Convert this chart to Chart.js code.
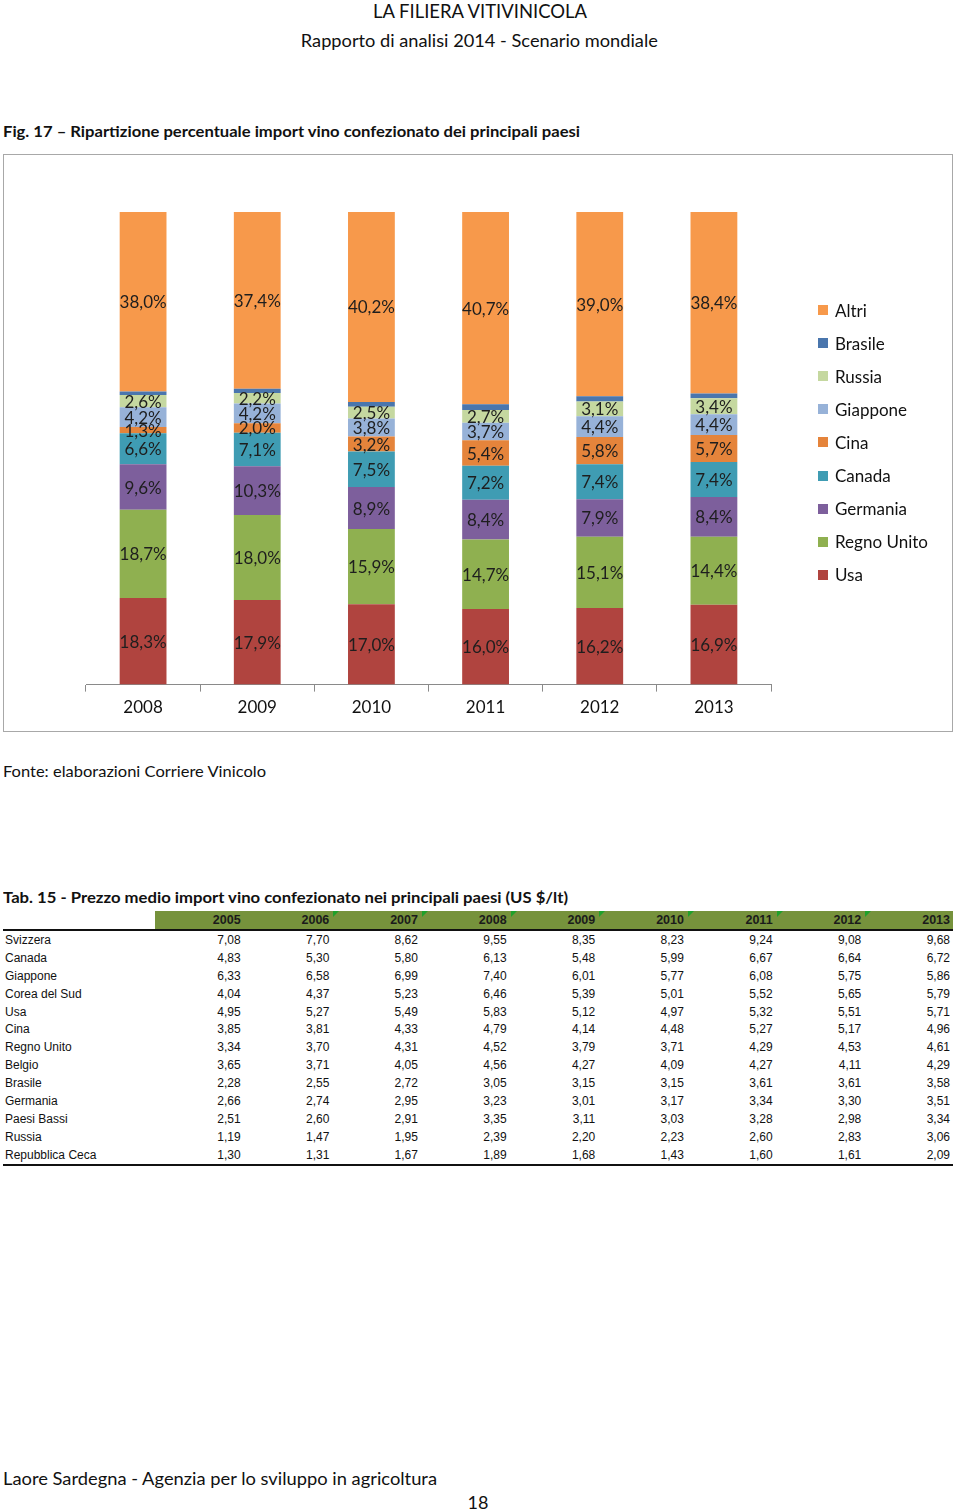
<!DOCTYPE html>
<html>
<head>
<meta charset="utf-8">
<script src="https://cdn.jsdelivr.net/npm/chart.js@4.4.0/dist/chart.umd.min.js"></script>
<style>
  html, body { margin:0; padding:0; background:#fff; }
  body { width:960px; height:1510px; position:relative; overflow:hidden; font-family: Lato, "Open Sans", sans-serif; color:#111; }
  .t { position:absolute; white-space:nowrap; line-height:1; }
  .fit { display:inline-block; }
  #frame { position:absolute; left:3px; top:154px; width:948px; height:576px; border:1px solid #a8a8a8; }
  #box { position:absolute; left:4px; top:155px; width:948px; height:576px; }
  #legend { position:absolute; left:814px; top:0; }
  .li { position:absolute; left:0; white-space:nowrap; font-size:17px; line-height:1; color:#111; }
  .sw { position:absolute; left:0; width:10px; height:10px; }
  .lt { position:absolute; left:17px; }
  #tbl { position:absolute; left:3px; top:911px; width:950px; border-collapse:collapse; table-layout:fixed; font-family:"Liberation Sans", Arial, sans-serif; }
  #tbl td, #tbl th { padding:0 3px 0 0; text-align:right; white-space:nowrap; position:relative; }
  #tbl th { background:#76923c; font-size:12.5px; font-weight:bold; color:#1b1b1b; height:18px; border-bottom:2px solid #111; }
  #tbl th.blank { background:#fff; }
  #tbl td { font-size:12px; height:17.9px; color:#111; }
  #tbl td.name { text-align:left; padding-left:2px; }
  #tbl tr:last-child td { border-bottom:2px solid #111; }
  .tri { position:absolute; left:1px; top:0; width:0; height:0; border-top:6px solid #1fa02a; border-right:6px solid transparent; }
</style>
</head>
<body>
<div class="t" id="h1" style="top:1px;left:0;width:960px;text-align:center;font-size:19.5px;"><span class="fit" data-w="214" data-o="center">LA FILIERA VITIVINICOLA</span></div>
<div class="t" id="h2" style="top:31px;left:0;width:958px;text-align:center;font-size:18px;"><span class="fit" data-w="357" data-o="center">Rapporto di analisi 2014 - Scenario mondiale</span></div>
<div class="t" style="top:123px;left:3px;font-size:16px;font-weight:bold;"><span class="fit" data-w="577" data-o="left">Fig. 17 – Ripartizione percentuale import vino confezionato dei principali paesi</span></div>

<div id="frame"></div>
<div id="box"><canvas id="c"></canvas><div id="legend"></div></div>

<div class="t" style="top:763px;left:3px;font-size:16px;"><span class="fit" data-w="263" data-o="left">Fonte: elaborazioni Corriere Vinicolo</span></div>
<div class="t" style="top:889px;left:3px;font-size:16px;font-weight:bold;"><span class="fit" data-w="565" data-o="left">Tab. 15 - Prezzo medio import vino confezionato nei principali paesi (US $/lt)</span></div>

<table id="tbl"></table>

<div class="t" style="top:1469px;left:3px;font-size:18px;"><span class="fit" data-w="434" data-o="left">Laore Sardegna - Agenzia per lo sviluppo in agricoltura</span></div>
<div class="t" style="top:1493px;left:0;width:956px;text-align:center;font-size:18px;">18</div>

<script>
// ---------- Chart data (Fig. 17) ----------
const years = ['2008', '2009', '2010', '2011', '2012', '2013'];
const usa        = [18.3, 17.9, 17.0, 16.0, 16.2, 16.9];
const regnoUnito = [18.7, 18.0, 15.9, 14.7, 15.1, 14.4];
const germania   = [9.6, 10.3, 8.9, 8.4, 7.9, 8.4];
const canada     = [6.6, 7.1, 7.5, 7.2, 7.4, 7.4];
const cina       = [1.3, 2.0, 3.2, 5.4, 5.8, 5.7];
const giappone   = [4.2, 4.2, 3.8, 3.7, 4.4, 4.4];
const russia     = [2.6, 2.2, 2.5, 2.7, 3.1, 3.4];
const brasile    = [0.7, 0.9, 1.0, 1.2, 1.1, 1.0];
const altri      = [38.0, 37.4, 40.2, 40.7, 39.0, 38.4];

// ---------- Table data (Tab. 15) ----------
const tabYears = ['2005','2006','2007','2008','2009','2010','2011','2012','2013'];
const tabCountries = ['Svizzera','Canada','Giappone','Corea del Sud','Usa','Cina','Regno Unito','Belgio','Brasile','Germania','Paesi Bassi','Russia','Repubblica Ceca'];
const tabSvizzera = [7.08, 7.70, 8.62, 9.55, 8.35, 8.23, 9.24, 9.08, 9.68];
const tabCanada   = [4.83, 5.30, 5.80, 6.13, 5.48, 5.99, 6.67, 6.64, 6.72];
const tabGiappone = [6.33, 6.58, 6.99, 7.40, 6.01, 5.77, 6.08, 5.75, 5.86];
const tabCorea    = [4.04, 4.37, 5.23, 6.46, 5.39, 5.01, 5.52, 5.65, 5.79];
const tabUsa      = [4.95, 5.27, 5.49, 5.83, 5.12, 4.97, 5.32, 5.51, 5.71];
const tabCina     = [3.85, 3.81, 4.33, 4.79, 4.14, 4.48, 5.27, 5.17, 4.96];
const tabRegno    = [3.34, 3.70, 4.31, 4.52, 3.79, 3.71, 4.29, 4.53, 4.61];
const tabBelgio   = [3.65, 3.71, 4.05, 4.56, 4.27, 4.09, 4.27, 4.11, 4.29];
const tabBrasile  = [2.28, 2.55, 2.72, 3.05, 3.15, 3.15, 3.61, 3.61, 3.58];
const tabGermania = [2.66, 2.74, 2.95, 3.23, 3.01, 3.17, 3.34, 3.30, 3.51];
const tabPaesi    = [2.51, 2.60, 2.91, 3.35, 3.11, 3.03, 3.28, 2.98, 3.34];
const tabRussia   = [1.19, 1.47, 1.95, 2.39, 2.20, 2.23, 2.60, 2.83, 3.06];
const tabCeca     = [1.30, 1.31, 1.67, 1.89, 1.68, 1.43, 1.60, 1.61, 2.09];
const tabRows = [tabSvizzera, tabCanada, tabGiappone, tabCorea, tabUsa, tabCina, tabRegno, tabBelgio, tabBrasile, tabGermania, tabPaesi, tabRussia, tabCeca];
const triangleCols = ['2007','2008','2009','2010','2011','2012','2013'];

// ---------- build table ----------
(function(){
  const t = document.getElementById('tbl');
  let cg = '<colgroup><col style="width:152px">';
  tabYears.forEach(()=> cg += '<col style="width:88.67px">');
  cg += '</colgroup>';
  let h = '<tr><th class="blank"></th>';
  tabYears.forEach(y => {
    const tri = triangleCols.includes(y) ? '<span class="tri"></span>' : '';
    h += '<th>' + tri + y + '</th>';
  });
  h += '</tr>';
  let b = '';
  tabCountries.forEach((c, i) => {
    b += '<tr><td class="name">' + c + '</td>';
    tabRows[i].forEach(v => b += '<td>' + v.toFixed(2).replace('.', ',') + '</td>');
    b += '</tr>';
  });
  t.innerHTML = cg + h + b;
})();

// ---------- chart ----------
const series = [
  { label:'Usa',         data:usa,        color:'#b0443f' },
  { label:'Regno Unito', data:regnoUnito, color:'#8fb050' },
  { label:'Germania',    data:germania,   color:'#7d5f9c' },
  { label:'Canada',      data:canada,     color:'#3f9cb3' },
  { label:'Cina',        data:cina,       color:'#e5843b' },
  { label:'Giappone',    data:giappone,   color:'#97b2d8' },
  { label:'Russia',      data:russia,     color:'#c5d8a0' },
  { label:'Brasile',     data:brasile,    color:'#4a76ad', noLabel:true },
  { label:'Altri',       data:altri,      color:'#f7994b' }
];

const fmt = v => v.toFixed(1).replace('.', ',') + '%';

const segLabels = {
  id:'segLabels',
  afterDatasetsDraw(chart){
    const ctx = chart.ctx;
    ctx.save();
    ctx.font = '17px Lato, "Open Sans", sans-serif';
    ctx.fillStyle = '#1e1e1e';
    ctx.textAlign = 'center';
    ctx.textBaseline = 'middle';
    chart.data.datasets.forEach((ds, i) => {
      if (ds.noLabel) return;
      const meta = chart.getDatasetMeta(i);
      meta.data.forEach((bar, j) => {
        const p = bar.getProps(['x','y','base'], true);
        ctx.fillText(fmt(ds.data[j]), p.x, (p.y + p.base) / 2 + 1);
      });
    });
    ctx.restore();
  }
};

const chart = new Chart(document.getElementById('c'), {
  type:'bar',
  data:{
    labels: years,
    datasets: series.map(s => ({
      label: s.label, data: s.data, backgroundColor: s.color, borderWidth:0,
      noLabel: !!s.noLabel, categoryPercentage:1, barPercentage:0.41
    }))
  },
  options:{
    responsive:true, maintainAspectRatio:false, animation:false,
    layout:{ padding:{ left:82, right:181, top:57, bottom:7 } },
    plugins:{ legend:{display:false}, tooltip:{enabled:false} },
    scales:{
      x:{ stacked:true, offset:true,
          grid:{ display:true, drawOnChartArea:false, drawTicks:true, tickLength:7, color:'#8a8a8a', offset:true },
          border:{ display:true, color:'#8a8a8a', width:1 },
          ticks:{ color:'#111', padding:6, font:{ family:'Lato', size:17 } } },
      y:{ stacked:true, display:false, min:0, max:100 }
    }
  },
  plugins:[segLabels]
});

// ---------- legend (HTML, reversed order as in reference) ----------
(function(){
  const lg = document.getElementById('legend');
  const items = series.slice().reverse();
  let html = '';
  items.forEach((s, i) => {
    const cy = 155 + i * 33.1;
    html += '<div class="li" style="top:' + (cy - 8.5) + 'px"><span class="sw" style="top:3.5px;background:' + s.color + '"></span><span class="lt">' + s.label + '</span></div>';
  });
  lg.innerHTML = html;
})();

// ---------- fit text widths ----------
document.querySelectorAll('.fit').forEach(el => {
  const w = el.getBoundingClientRect().width;
  const target = +el.dataset.w;
  el.style.transformOrigin = el.dataset.o === 'center' ? 'center' : 'left';
  el.style.transform = 'scaleX(' + (target / w).toFixed(4) + ')';
});
</script>
</body>
</html>
